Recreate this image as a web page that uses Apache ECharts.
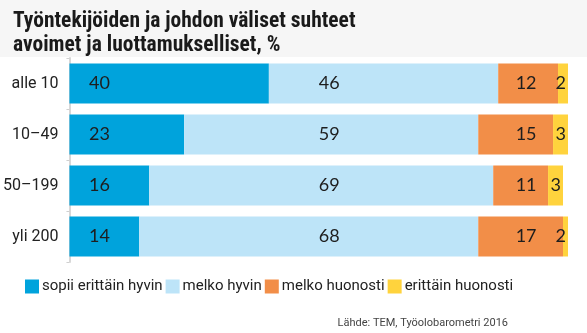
<!DOCTYPE html>
<html><head><meta charset="utf-8">
<script src="https://cdn.jsdelivr.net/npm/echarts@6/dist/echarts.min.js"></script>
<style>html,body{margin:0;padding:0;background:#fff}#c{width:587px;height:333px}</style>
</head><body><div id="c"></div>
<script>
const categories = ['alle 10', '10–49', '50–199', 'yli 200'];
const seriesNames = ['sopii erittäin hyvin', 'melko hyvin', 'melko huonosti', 'erittäin huonosti'];
const veryWell = [40, 23, 16, 14];
const fairlyWell = [46, 59, 69, 68];
const fairlyPoor = [12, 15, 11, 17];
const veryPoor = [2, 3, 3, 2];
const colors = ['#00a3dc', '#bde4f8', '#f28e48', '#ffd33d'];
const titleText = 'Työntekijöiden ja johdon väliset suhteet\navoimet ja luottamukselliset, %';
const sourceText = 'Lähde: TEM, Työolobarometri 2016';

const chart = echarts.init(document.getElementById('c'), null, {renderer: 'canvas'});
const labelBase = {show: true, color: '#1e1e1e', fontSize: 18, fontFamily: 'Lato, sans-serif'};

function mk(name, data, color, label) {
  return {name, type: 'bar', stack: 'a', data, barWidth: 40,
    itemStyle: {color}, label: Object.assign({}, labelBase, label),
    emphasis: {disabled: true}};
}
const option = {
  backgroundColor: '#ffffff',
  animation: false,
  title: {text: titleText, left: 8, top: 5,
    textStyle: {fontSize: 21.5, fontWeight: 'bold', color: '#1a1a1a', lineHeight: 24,
      fontFamily: '"Liberation Sans Narrow", "Roboto Condensed", Roboto, sans-serif'}},
  graphic: [
    {type: 'rect', left: 0, top: 0, z: -10, shape: {width: 587, height: 57}, style: {fill: '#f6f6f6'}},
    {type: 'text', right: 79, top: 318, style: {text: sourceText, fontSize: 11, fill: '#444',
      fontFamily: '"Liberation Sans Narrow", Roboto, sans-serif'}}
  ],
  legend: {left: 20, top: 274, itemWidth: 14, itemHeight: 14, itemGap: 3, icon: 'rect',
    textStyle: {fontSize: 15, color: '#222', fontFamily: 'Roboto, sans-serif', padding: [0, 0, 0, -2]},
    data: seriesNames},
  grid: {left: 66, right: 19, top: 58, bottom: 71, containLabel: false},
  xAxis: {type: 'value', min: 0, max: 100, show: false},
  yAxis: {type: 'category', data: categories, inverse: true,
    axisLine: {show: true, lineStyle: {color: '#d8d8d8', width: 2}},
    axisTick: {show: true, length: 3, lineStyle: {color: '#d0d0d0'}},
    axisLabel: {fontSize: 16, color: '#222', margin: 11, fontFamily: 'Roboto, sans-serif'}},
  series: [
    mk(seriesNames[0], veryWell, colors[0], {position: [30, '50%'], align: 'center', verticalAlign: 'middle'}),
    mk(seriesNames[1], fairlyWell, colors[1], {position: 'insideLeft'}),
    mk(seriesNames[2], fairlyPoor, colors[2], {position: 'insideLeft'}),
    mk(seriesNames[3], veryPoor, colors[3], {position: 'insideRight', distance: 2})
  ]
};
chart.setOption(option);

// anchor light-blue labels at a common x (value 50) and orange labels centred at a common x
const px = v => chart.convertToPixel({xAxisIndex: 0}, v);
const fwData = fairlyWell.map((v, i) => ({value: v,
  label: {position: [px(50) - px(veryWell[i]), '50%'], align: 'left', verticalAlign: 'middle'}}));
const fpData = fairlyPoor.map((v, i) => ({value: v,
  label: {position: [px(91.6) - px(veryWell[i] + fairlyWell[i]), '50%'], align: 'center', verticalAlign: 'middle'}}));
chart.setOption({series: [{}, {data: fwData}, {data: fpData}, {}]});
</script></body></html>
